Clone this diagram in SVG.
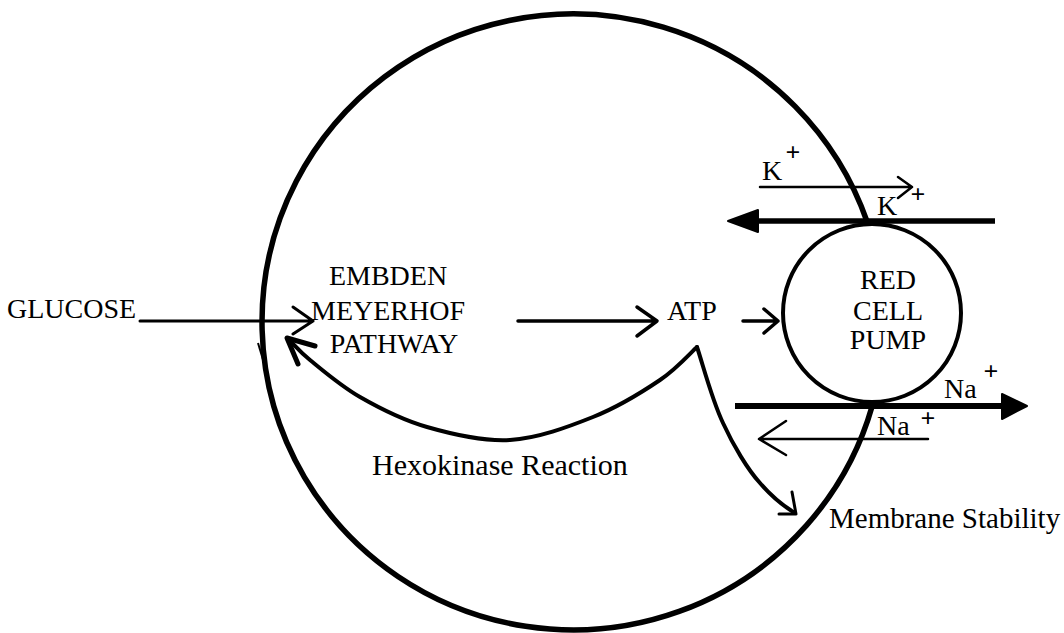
<svg xmlns="http://www.w3.org/2000/svg" width="1064" height="633" viewBox="0 0 1064 633" font-family="'Liberation Serif', 'Times New Roman', 'DejaVu Serif', serif">
<style>
text{font-family:'Liberation Serif','Times New Roman','DejaVu Serif',serif;fill:#000}
.lbl{font-size:28px}
.mid{text-anchor:middle}
.plus{font-size:26px;font-weight:bold;text-anchor:middle}
.thick{fill:none;stroke:#000;stroke-width:5.5;stroke-linecap:round;stroke-linejoin:round}
.med{fill:none;stroke:#000;stroke-width:4;stroke-linecap:round;stroke-linejoin:round}
.thin{fill:none;stroke:#000;stroke-width:3;stroke-linecap:round;stroke-linejoin:round}
.head{fill:#000;stroke:#000;stroke-width:2;stroke-linejoin:round}
</style>
<rect width="1064" height="633" fill="#fff"/>

<g id="cell-membrane">
<path class="thick" d="M867.2,222 A311,308 0 1 0 872.2,406"/>
<path d="M258,343 L267,373" fill="none" stroke="#000" stroke-width="2"/>
</g>

<g id="glucose">
<text class="lbl" x="7" y="318">GLUCOSE</text>
</g>

<g id="embden-meyerhof">
<text class="lbl mid" x="388" y="285">EMBDEN</text>
<text class="lbl mid" x="388" y="320">MEYERHOF</text>
<text class="lbl mid" x="394" y="353">PATHWAY</text>
</g>

<g id="atp">
<text class="lbl" x="667" y="320">ATP</text>
</g>

<g id="red-cell-pump">
<circle cx="872" cy="313" r="89" fill="none" stroke="#000" stroke-width="4"/>
<text class="lbl mid" x="888" y="289">RED</text>
<text class="lbl mid" x="888" y="320">CELL</text>
<text class="lbl mid" x="888" y="349">PUMP</text>
</g>

<g id="hexokinase">
<text x="372" y="475" style="font-size:30px">Hexokinase Reaction</text>
</g>

<g id="membrane-stability">
<text x="829" y="528" style="font-size:29px">Membrane Stability</text>
</g>

<g id="ions">
<text class="lbl" x="762" y="180">K</text>
<text class="plus" x="793" y="161">+</text>
<text class="lbl" x="877" y="215">K</text>
<text class="plus" x="918" y="203">+</text>
<text class="lbl" x="944" y="398">Na</text>
<text class="plus" x="991" y="380">+</text>
<text class="lbl" x="877" y="435">Na</text>
<text class="plus" x="928" y="427">+</text>
</g>

<g id="connectors">
<path class="thin" d="M140,321 L313,321 M293,307 L313,321 L293,334"/>
<path class="thin" d="M518,321 L657,321 M637,307 L657,321 L637,336" style="stroke-width:3.5"/>
<path class="thin" d="M743,321 L778,321 M764,309 L778,321 L764,333" style="stroke-width:3.5"/>
<path class="med" d="M697,347 C690.8,352.5 677.3,368.3 660,380 C642.7,391.7 618,407 593,417 C568,427 537.7,438.3 510,440 C482.3,441.7 452,434.2 427,427 C402,419.8 379.5,408.2 360,397 C340.5,385.8 321.7,369.5 310,360 C298.3,350.5 293.3,343.3 288,339"/>
<path class="med" d="M315,346 L287,338 L298,364" style="stroke-width:5"/>
<path class="med" d="M697,347 C703,365 712,400 723,423 C733,445 748,470 760,483 C772,497 785,507 795,513"/>
<path class="thin" d="M792,492 L796,514 L779,514"/>
<path class="thin" d="M760,187 L912,187 M898,177 L912,187 L898,198" style="stroke-width:2.5"/>
<path d="M757,221 L995,221" stroke="#000" stroke-width="5.5" fill="none"/>
<polygon class="head" points="728,221 758,210 758,232"/>
<path d="M735,406 L1003,406" stroke="#000" stroke-width="6" fill="none"/>
<polygon class="head" points="1027,406 1002,394 1002,419"/>
<path class="thin" d="M928,439 L759,439 M786,421 L759,439 L786,455" style="stroke-width:2.5"/>
</g>
</svg>
